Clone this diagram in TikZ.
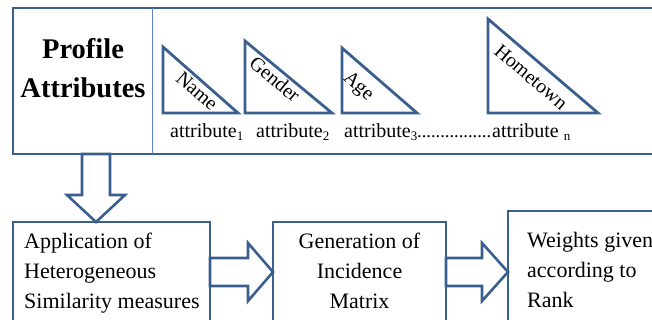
\documentclass[tikz,border=0pt]{standalone}
\usepackage{fontspec}
\newfontfamily\libser{Liberation Serif}
\usetikzlibrary{calc}
\definecolor{bord}{HTML}{3A5F8E}
\definecolor{divc}{HTML}{5B86C0}
\newcommand\mysub[1]{\raisebox{-0.25ex}{\fontsize{13}{13}\selectfont #1}}
\begin{document}
\begin{tikzpicture}[x=1pt,y=-1pt,
  frame/.style={draw=bord, line width=2.6pt, inner sep=0pt, outer sep=0pt, anchor=north west},
  barrow/.style={draw=bord, fill=white, line width=2.6pt, line join=miter},
  tri/.style={draw=bord, line width=2.8pt, line join=miter},
  lbl/.style={font=\libser\fontsize{20}{20}\selectfont, inner sep=0pt, anchor=base west},
  boxtxt/.style={font=\libser\fontsize{22}{30}\selectfont, inner sep=0pt},
  trisr/.style={font=\libser\fontsize{20}{20}\selectfont, inner sep=0pt},
  trisa/.style={font=\libser\fontsize{20}{20}\selectfont, inner sep=0pt}]
\useasboundingbox (0,0) rectangle (652,320);
% boxes (frames defined first for naming)
\path node[frame, draw=none, minimum width=648pt, minimum height=146pt] (top) at (13,8) {};
\path node[frame, draw=none, minimum width=197pt, minimum height=110pt] (box1) at (13,222) {};
\path node[frame, draw=none, minimum width=173pt, minimum height=110pt] (box2) at (273,222) {};
\path node[frame, draw=none, minimum width=150pt, minimum height=120pt] (box3) at (508,211) {};
% block arrows
\draw[barrow] ($(top.south west)+(69,0)$) -- ++(0,41) -- ++(-15,0) -- ($(box1.north west)+(83,0)$) -- ++(29,-27) -- ++(-15,0) -- ++(0,-41) -- cycle;
\draw[barrow] ($(box1.north east)+(0,36)$) -- ++(38,0) -- ++(0,-15) -- ($(box2.north west)+(0,50)$) -- ++(-25,29) -- ++(0,-15) -- ++(-38,0) -- cycle;
\draw[barrow] ($(box2.north east)+(0,36)$) -- ++(36,0) -- ++(0,-15) -- ($(box3.north west)+(0,61)$) -- ++(-26,29) -- ++(0,-15) -- ++(-36,0) -- cycle;
% frames
\draw[draw=bord, line width=2.6pt] (top.north west) rectangle (top.south east);
\draw[draw=bord, line width=2.6pt] (box1.north west) rectangle (box1.south east);
\draw[draw=bord, line width=2.6pt] (box2.north west) rectangle (box2.south east);
\draw[draw=bord, line width=2.6pt] (box3.north west) rectangle (box3.south east);
% divider
\draw[divc, line width=0.9pt] ($(top.north west)+(139.5,0)$) -- ($(top.south west)+(139.5,0)$);
% title
\node[font=\libser\bfseries\fontsize{28.5}{39}\selectfont, align=center, inner sep=0pt] (pa) at (83,68) {Profile\\Attributes};
% triangles
\draw[tri] (163,47) -- (163,113) -- (238,113) -- cycle;
\draw[tri] (245,41) -- (245,113) -- (332,113) -- cycle;
\draw[tri] (342,48) -- (342,113) -- (417,113) -- cycle;
\draw[tri] (488,19) -- (488,113) -- (598,113) -- cycle;
\node[trisr, rotate=-41] (tname) at (197,91) {Name};
\node[trisr, rotate=-40] (tgender) at (275,79) {Gender};
\node[trisa, rotate=-41] (tage) at (358,87) {Age};
\node[trisa, rotate=-40.5] (thome) at (531,77) {Hometown};
% attribute labels
\node[lbl] (l1) at (170,138) {attribute\mysub{1}};
\node[lbl] (l2) at (256,138) {attribute\mysub{2}};
\node[lbl] (l3) at (344,138) {attribute\mysub{3}};
\node[lbl, font=\libser\fontsize{18.5}{18}\selectfont] (ldots) at (417,138) {................};
\node[lbl] (ln) at (492,138) {attribute \mysub{n}};
% box texts
\node[boxtxt, align=left, anchor=west] (t1) at (24,273) {Application of\\Heterogeneous\\Similarity measures};
\node[boxtxt, align=center] (t2) at (359.5,270.5) {Generation of\\Incidence\\Matrix};
\node[boxtxt, align=left, anchor=west] (t3) at (527,269.5) {Weights given\\according to\\Rank};
\end{tikzpicture}
\end{document}
